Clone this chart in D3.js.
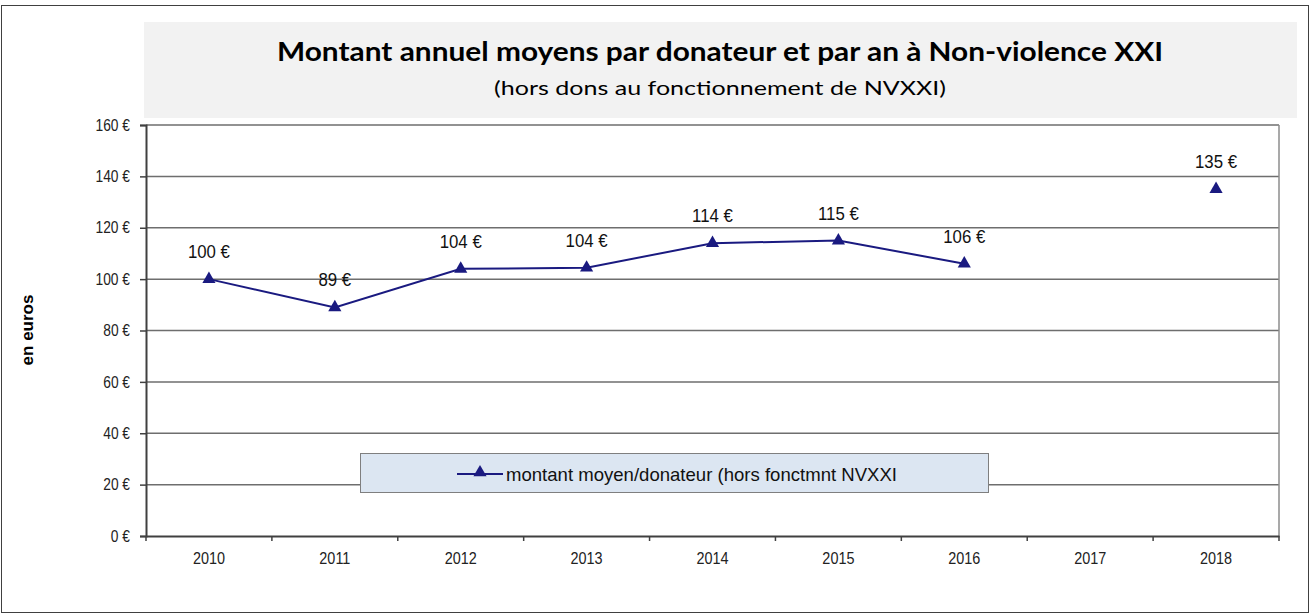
<!DOCTYPE html>
<html><head><meta charset="utf-8">
<script src="https://cdn.jsdelivr.net/npm/d3@7"></script>
<style>body{margin:0;background:#fff}svg{display:block}</style>
</head><body>
<svg id="c" width="1312" height="615"></svg>
<script>
const categories = ["2010","2011","2012","2013","2014","2015","2016","2017","2018"];
const values = [100, 89, 104, 104.4, 114, 115, 106, null, 135];
const yTicks = [0,20,40,60,80,100,120,140,160];
const title = "Montant annuel moyens par donateur et par an à Non-violence XXI";
const subtitle = "(hors dons au fonctionnement de NVXXI)";
const legendLabel = "montant moyen/donateur (hors fonctmnt NVXXI";
const yLabel = "en euros";

const svg = d3.select("#c");
const navy = "#1a1a80";
const m = {left:146, right:1279, top:125, bottom:536};
const sans = "'Liberation Sans', Arial, sans-serif";

function squeeze(sel, f){
  sel.each(function(){
    const l = this.getComputedTextLength();
    d3.select(this).attr("textLength", l*f).attr("lengthAdjust","spacingAndGlyphs");
  });
}

// outer frame
svg.append("rect").attr("x",1.5).attr("y",5.5).attr("width",1307).attr("height",607)
  .attr("fill","#fff").attr("stroke","#404040").attr("stroke-width",1);

// title box
svg.append("rect").attr("x",144).attr("y",22).attr("width",1153).attr("height",96).attr("fill","#f2f2f2");
svg.append("text").attr("x",720).attr("y",61).attr("text-anchor","middle")
  .attr("font-family","Lato, 'Open Sans', sans-serif").attr("font-weight","bold").attr("font-size",26)
  .attr("textLength",886).attr("lengthAdjust","spacingAndGlyphs")
  .attr("fill","#000").text(title);
svg.append("text").attr("x",720).attr("y",95).attr("text-anchor","middle")
  .attr("font-family","Lato, 'Open Sans', sans-serif").attr("font-size",20)
  .attr("textLength",452).attr("lengthAdjust","spacingAndGlyphs")
  .attr("fill","#000").text(subtitle);

const x = d3.scaleBand().domain(categories).range([m.left,m.right]).padding(0);
const y = d3.scaleLinear().domain([0,160]).range([m.bottom,m.top]);

// gridlines
svg.append("g").selectAll("line").data(yTicks.filter(d=>d>0)).join("line")
  .attr("x1",m.left).attr("x2",m.right).attr("y1",d=>y(d)).attr("y2",d=>y(d))
  .attr("stroke","#6e6e6e").attr("stroke-width",1.5);
// right border
svg.append("line").attr("x1",m.right).attr("x2",m.right).attr("y1",m.top).attr("y2",m.bottom)
  .attr("stroke","#8c8c8c").attr("stroke-width",1.5);

// y axis
const yAxis = d3.axisLeft(y).tickValues(yTicks).tickSize(6).tickFormat(d=>d+" €");
const gy = svg.append("g").attr("transform",`translate(${m.left},0)`).call(yAxis);
gy.select(".domain").attr("stroke","#404040").attr("stroke-width",2);
gy.selectAll(".tick line").attr("stroke","#404040").attr("stroke-width",1.5);
gy.selectAll(".tick text").attr("font-family",sans)
  .attr("font-size",16).attr("fill","#222").attr("x",-16).call(squeeze,0.86);

// x axis
const xAxis = d3.axisBottom(x).tickSize(0).tickSizeOuter(0);
const gx = svg.append("g").attr("transform",`translate(0,${m.bottom})`).call(xAxis);
gx.select(".domain").attr("stroke","#404040").attr("stroke-width",2);
gx.selectAll(".tick text").attr("font-family",sans)
  .attr("font-size",16).attr("fill","#222").attr("y",17).call(squeeze,0.9);
// tick marks at category boundaries
const bounds = categories.map(c=>x(c)).concat([x(categories[categories.length-1])+x.bandwidth()]);
svg.append("g").selectAll("line").data(bounds).join("line")
  .attr("x1",d=>d).attr("x2",d=>d).attr("y1",m.bottom).attr("y2",m.bottom+5)
  .attr("stroke","#404040").attr("stroke-width",1.5);

// y label
svg.append("text").attr("transform","translate(33,330) rotate(-90)").attr("text-anchor","middle")
  .attr("font-family",sans).attr("font-weight","bold")
  .attr("font-size",17).attr("fill","#000").text(yLabel);

// line
const pts = categories.map((c,i)=>({c, v: values[i]}));
const line = d3.line().defined(d=>d.v!=null).x(d=>x(d.c)+x.bandwidth()/2).y(d=>y(d.v));
svg.append("path").datum(pts).attr("d",line).attr("fill","none")
  .attr("stroke",navy).attr("stroke-width",2);

const tri = d3.symbol().type(d3.symbolTriangle).size(75);
svg.append("g").selectAll("path").data(pts.filter(d=>d.v!=null)).join("path")
  .attr("d",tri).attr("transform",d=>`translate(${x(d.c)+x.bandwidth()/2},${y(d.v)})`)
  .attr("fill",navy);

svg.append("g").selectAll("text").data(pts.filter(d=>d.v!=null)).join("text")
  .attr("x",d=>x(d.c)+x.bandwidth()/2).attr("y",d=>y(d.v)-21)
  .attr("text-anchor","middle").attr("font-family",sans)
  .attr("font-size",17.5).attr("fill","#111").text(d=>Math.round(d.v)+" €").call(squeeze,0.96);

// legend
const lg = svg.append("g");
lg.append("rect").attr("x",360.5).attr("y",453.5).attr("width",628).attr("height",39)
  .attr("fill","#dce6f2").attr("stroke","#7f7f7f").attr("stroke-width",1);
lg.append("line").attr("x1",457).attr("x2",503).attr("y1",474).attr("y2",474)
  .attr("stroke",navy).attr("stroke-width",2);
lg.append("path").attr("d",tri).attr("transform","translate(480,472.5)").attr("fill",navy);
lg.append("text").attr("x",506).attr("y",481).attr("font-family",sans)
  .attr("font-size",19).attr("textLength",391).attr("lengthAdjust","spacingAndGlyphs")
  .attr("fill","#111").text(legendLabel);
</script>
</body></html>
